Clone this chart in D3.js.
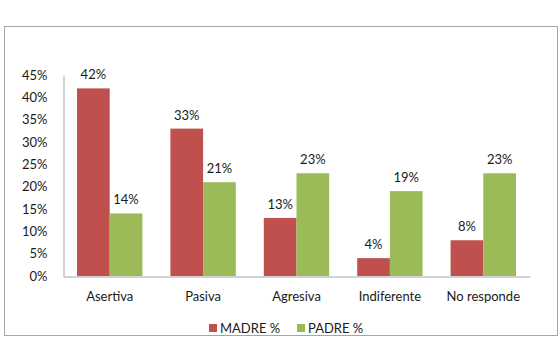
<!DOCTYPE html>
<html><head><meta charset="utf-8">
<script src="https://cdn.jsdelivr.net/npm/d3@7"></script>
<style>body{margin:0;background:#fff}svg{display:block}</style>
</head><body>
<script>
const categories = ["Asertiva","Pasiva","Agresiva","Indiferente","No responde"];
const madre = [42,33,13,4,8];
const padre = [14,21,23,19,23];
const seriesNames = ["MADRE %","PADRE %"];
const colors = ["#C0504D","#9BBB59"];
const yTicks = [0,5,10,15,20,25,30,35,40,45];

const W=560,H=337;
const svg=d3.select("body").append("svg").attr("width",W).attr("height",H);
const font="Lato, 'Open Sans', sans-serif";
const fs=13;
svg.append("rect").attr("x",4.5).attr("y",26.5).attr("width",553).attr("height",309)
  .attr("fill","#fff").attr("stroke","#A6A6A6").attr("stroke-width",1);

const x=d3.scaleBand().domain(categories).range([63,530]).paddingInner(0.3).paddingOuter(0.15);
const x1=d3.scaleBand().domain([0,1]).range([0,x.bandwidth()]);
const y=d3.scaleLinear().domain([0,45]).range([276,75]);

const data=categories.map((c,i)=>({c,vals:[madre[i],padre[i]]}));
const g=svg.append("g");
data.forEach(d=>{
  d.vals.forEach((v,s)=>{
    g.append("rect").attr("x",x(d.c)+x1(s)).attr("y",y(v)).attr("width",x1.bandwidth()).attr("height",y(0)-y(v)).attr("fill",colors[s]);
    g.append("text").attr("x",x(d.c)+x1(s)+x1.bandwidth()/2).attr("y",y(v)-9)
      .attr("text-anchor","middle").attr("font-family",font).attr("font-size",fs).attr("fill","#1a1a1a").text(v+"%");
  });
});

const ya=d3.axisLeft(y).tickValues(yTicks).tickFormat(d=>d+"%").tickSize(0).tickPadding(16);
const yg=svg.append("g").attr("transform","translate(63.5,0)").call(ya);
yg.select(".domain").attr("stroke","#A6A6A6");
yg.selectAll("text").attr("font-family",font).attr("font-size",fs).attr("fill","#1a1a1a");

const xa=d3.axisBottom(x).tickSize(0).tickPadding(15);
const xg=svg.append("g").attr("transform","translate(0,276.5)").call(xa);
xg.select(".domain").attr("stroke","#A6A6A6");
xg.selectAll("text").attr("font-family",font).attr("font-size",fs).attr("fill","#1a1a1a");

const leg=svg.append("g");
const legX=[209,297];
seriesNames.forEach((n,i)=>{
  leg.append("rect").attr("x",legX[i]).attr("y",324).attr("width",8).attr("height",8).attr("fill",colors[i]);
  leg.append("text").attr("x",legX[i]+11).attr("y",332.5).attr("font-family",font).attr("font-size",fs).attr("fill","#1a1a1a").text(n);
});
</script>
</body></html>
